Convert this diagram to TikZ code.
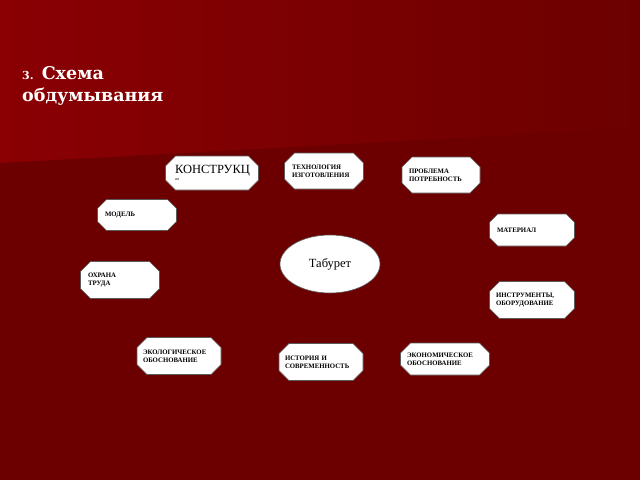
\documentclass[tikz,border=0pt]{standalone}
\usepackage{fontspec}
\setmainfont{Liberation Serif}
\newfontfamily\titlefont{DejaVu Serif}
\usetikzlibrary{shapes.misc,shapes.geometric}

\definecolor{bgdark}{HTML}{6C0000}
\definecolor{bgtop}{HTML}{8A0003}
\definecolor{boxline}{HTML}{5A5A5A}

\tikzset{
    idea/.style={chamfered rectangle, chamfered rectangle sep=5pt, draw=boxline, line width=0.6pt,
        fill=white, inner sep=1pt, align=left, font=\bfseries\fontsize{6.8}{8}\selectfont},
    core/.style={ellipse, draw=boxline, line width=0.6pt, fill=white,
        minimum width=100pt, minimum height=58pt, inner sep=0pt, font=\fontsize{12.5}{14}\selectfont}
}

\begin{document}
\begin{tikzpicture}[x=1pt, y=-1pt]
    	% Background:
    	\useasboundingbox (0,0) rectangle (640,480);
    	\fill[bgdark] (0,0) rectangle (640,480);
    	\shade[left color=bgtop, right color=bgdark] (0,0) -- (640,0) -- (640,128) -- (0,163) -- cycle;
    	% Title:
    	\node[anchor=north west, text=white, align=left, inner sep=0pt, font=\titlefont\bfseries\fontsize{17.5}{22}\selectfont] (title) at (22,66)
    	    {{\fontsize{11}{14}\selectfont 3.} Схема\\обдумывания};
    	% Centre and ideas:
    	\node[core] (stool) at (330,264) {Табурет};
    	\node[idea, minimum width=93pt, minimum height=34pt, text width=74pt, font=\fontsize{12.5}{8}\selectfont] (design) at (212,173)
    	    {КОНСТРУКЦ\\[-1pt]{\fontsize{3}{3}\selectfont ИЯ}};
    	\node[idea, minimum width=79pt, minimum height=36pt, text width=64pt] (tech) at (324,171) {ТЕХНОЛОГИЯ\\ИЗГОТОВЛЕНИЯ};
    	\node[idea, minimum width=78pt, minimum height=36pt, text width=64pt] (need) at (441,175) {ПРОБЛЕМА\\ПОТРЕБНОСТЬ};
    	\node[idea, minimum width=79pt, minimum height=31pt, text width=64pt] (model) at (137,215) {МОДЕЛЬ\\[4pt]};
    	\node[idea, minimum width=85pt, minimum height=32pt, text width=70pt] (stuff) at (532,230) {МАТЕРИАЛ\\[4pt]};
    	\node[idea, minimum width=79pt, minimum height=37pt, text width=64pt] (safety) at (120,280) {ОХРАНА\\ТРУДА};
    	\node[idea, minimum width=85pt, minimum height=37pt, text width=72pt] (tools) at (532,300) {ИНСТРУМЕНТЫ,\\ОБОРУДОВАНИЕ};
    	\node[idea, minimum width=84pt, minimum height=37pt, text width=72pt] (eco) at (179,356) {ЭКОЛОГИЧЕСКОЕ\\ОБОСНОВАНИЕ};
    	\node[idea, minimum width=84pt, minimum height=37pt, text width=72pt] (history) at (321,362) {ИСТОРИЯ И\\СОВРЕМЕННОСТЬ};
    	\node[idea, minimum width=89pt, minimum height=32pt, text width=76pt] (cost) at (445,359) {ЭКОНОМИЧЕСКОЕ\\ОБОСНОВАНИЕ};
\end{tikzpicture}
\end{document}
